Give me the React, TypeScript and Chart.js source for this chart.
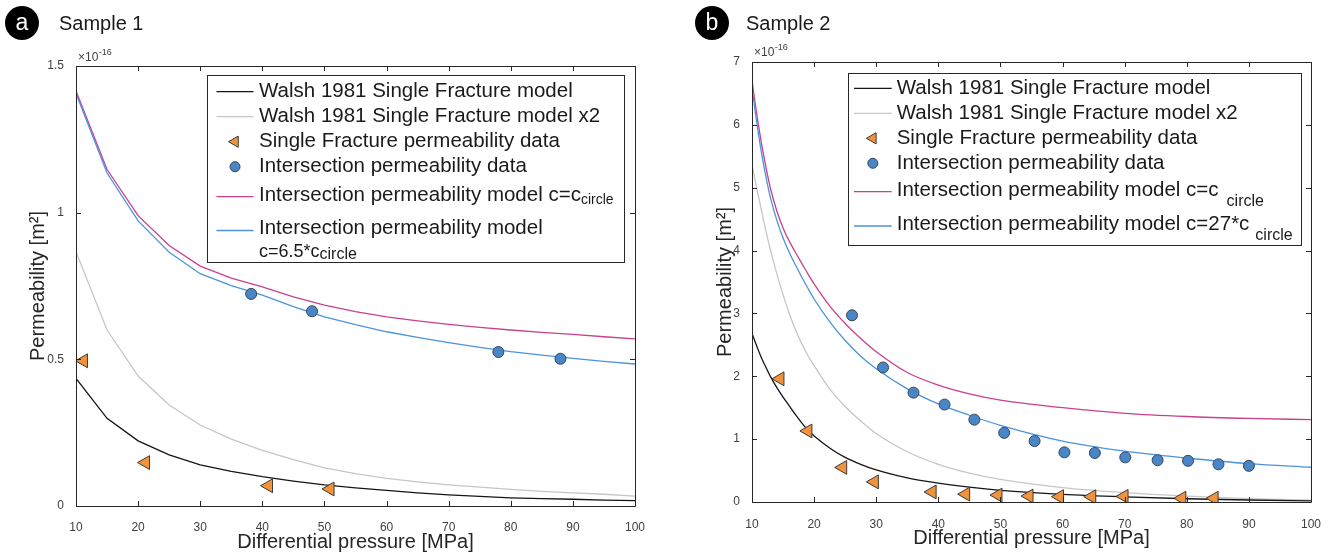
import React, { useEffect, useRef } from "react";
import { Chart, registerables } from "chart.js";

Chart.register(...registerables);

const FONT = '"Liberation Sans", Arial, Helvetica, sans-serif';

// ---------------- Panel a : Sample 1 ----------------
const aModelX = [10, 15, 20, 25, 30, 35, 40, 45, 50, 55, 60, 65, 70, 75, 80, 85, 90, 95, 100];
const aWalsh = [0.435, 0.299, 0.222, 0.174, 0.14, 0.118, 0.1, 0.085, 0.072, 0.062, 0.053, 0.045, 0.038, 0.033, 0.028, 0.025, 0.023, 0.02, 0.018];
const aWalshX2 = [0.867, 0.6, 0.443, 0.344, 0.276, 0.228, 0.19, 0.158, 0.13, 0.11, 0.094, 0.082, 0.072, 0.064, 0.057, 0.05, 0.045, 0.04, 0.034];
const aModelCircle = [1.415, 1.147, 0.99, 0.888, 0.818, 0.777, 0.747, 0.713, 0.685, 0.663, 0.645, 0.631, 0.619, 0.609, 0.6, 0.592, 0.585, 0.577, 0.57];
const aModel65 = [1.406, 1.135, 0.972, 0.865, 0.792, 0.751, 0.719, 0.68, 0.645, 0.618, 0.594, 0.575, 0.557, 0.541, 0.526, 0.514, 0.503, 0.493, 0.484];
const aSingleX = [11.2, 21.2, 41.0, 50.9];
const aSingleY = [0.495, 0.148, 0.069, 0.058];
const aInterX = [38.2, 48.0, 78.0, 88.0];
const aInterY = [0.723, 0.664, 0.525, 0.502];
const aYTicks = [0, 0.5, 1, 1.5];

// ---------------- Panel b : Sample 2 ----------------
const bModelX = [10, 10.5, 11, 11.5, 12, 12.5, 13, 14, 15, 16, 17, 18, 19, 20, 22.5, 25, 27.5, 30, 35, 40, 45, 50, 60, 70, 80, 90, 100];
const bWalsh = [2.68, 2.55, 2.42, 2.3, 2.19, 2.09, 1.99, 1.82, 1.67, 1.53, 1.39, 1.26, 1.14, 1.05, 0.86, 0.71, 0.6, 0.51, 0.385, 0.3, 0.235, 0.185, 0.12, 0.08, 0.052, 0.032, 0.018];
const bWalshX2 = [5.36, 5.12, 4.88, 4.65, 4.42, 4.2, 4.0, 3.63, 3.3, 3.0, 2.74, 2.52, 2.33, 2.17, 1.8, 1.52, 1.29, 1.09, 0.8, 0.6, 0.46, 0.36, 0.23, 0.15, 0.095, 0.055, 0.03];
const bModelCircle = [6.71, 6.35, 6.02, 5.72, 5.45, 5.2, 4.98, 4.63, 4.36, 4.15, 3.97, 3.8, 3.63, 3.47, 3.12, 2.84, 2.6, 2.39, 2.06, 1.86, 1.72, 1.62, 1.5, 1.41, 1.36, 1.33, 1.31];
const bModel27 = [6.61, 6.22, 5.88, 5.57, 5.3, 5.05, 4.83, 4.48, 4.2, 3.97, 3.77, 3.58, 3.4, 3.23, 2.87, 2.57, 2.32, 2.12, 1.8, 1.56, 1.38, 1.22, 0.97, 0.81, 0.7, 0.61, 0.553];
const bSingleX = [14.5, 19.0, 24.6, 29.7, 39.0, 44.4, 49.6, 54.6, 59.5, 64.7, 69.9, 79.2, 84.4];
const bSingleY = [1.96, 1.13, 0.55, 0.32, 0.16, 0.125, 0.11, 0.095, 0.085, 0.085, 0.09, 0.06, 0.06];
const bInterX = [26.1, 31.1, 36.0, 41.0, 45.8, 50.6, 55.5, 60.3, 65.2, 70.1, 75.3, 80.2, 85.1, 90.0];
const bInterY = [2.97, 2.14, 1.74, 1.55, 1.31, 1.1, 0.97, 0.79, 0.78, 0.71, 0.665, 0.655, 0.6, 0.575];
const bYTicks = [0, 1, 2, 3, 4, 5, 6, 7];

const xTicks = [10, 20, 30, 40, 50, 60, 70, 80, 90, 100];

const legendTexts = {
  walsh: "Walsh 1981 Single Fracture model",
  walsh2: "Walsh 1981 Single Fracture model x2",
  single: "Single Fracture permeability data",
  inter: "Intersection permeability data",
};

const COL = {
  black: "#151515",
  gray: "#c6c6c6",
  pink: "#c8408e",
  blue: "#4b93dc",
  orange: "#f2923a",
  orangeEdge: "#3a3a3a",
  dot: "#4a86c6",
  dotEdge: "#33475c",
  axis: "#262626",
  tick: "#404040",
};

const pts = (xs: number[], ys: number[]) => xs.map((x, i) => ({ x, y: ys[i] }));

function lineDs(label: string, xs: number[], ys: number[], color: string, smooth: boolean, order: number) {
  return {
    type: "line",
    label,
    data: pts(xs, ys),
    borderColor: color,
    backgroundColor: color,
    borderWidth: 1.3,
    pointRadius: 0,
    fill: false,
    tension: 0,
    cubicInterpolationMode: smooth ? "monotone" : "default",
    order,
  };
}

function triDs(label: string, xs: number[], ys: number[]) {
  return {
    type: "scatter",
    label,
    data: pts(xs, ys),
    pointStyle: "triangle",
    pointRotation: -90,
    pointRadius: 8,
    pointBackgroundColor: COL.orange,
    pointBorderColor: COL.orangeEdge,
    pointBorderWidth: 1,
    showLine: false,
    order: 1,
  };
}

function dotDs(label: string, xs: number[], ys: number[]) {
  return {
    type: "scatter",
    label,
    data: pts(xs, ys),
    pointStyle: "circle",
    pointRadius: 5.5,
    pointBackgroundColor: COL.dot,
    pointBorderColor: COL.dotEdge,
    pointBorderWidth: 1,
    showLine: false,
    order: 0,
  };
}

// frame + mirrored inward ticks + exponent label
const framePlugin = {
  id: "matlabFrame",
  afterDraw(chart: any) {
    const { ctx, chartArea, scales } = chart;
    const { left, top, right, bottom } = chartArea;
    const xs = scales.x;
    const ys = scales.y;
    ctx.save();
    ctx.strokeStyle = COL.axis;
    ctx.lineWidth = 1;
    ctx.beginPath();
    ctx.rect(Math.round(left) + 0.5, Math.round(top) + 0.5, Math.round(right - left), Math.round(bottom - top));
    ctx.stroke();
    const L = 5;
    ctx.beginPath();
    xs.ticks.forEach((t: any) => {
      const px = Math.round(xs.getPixelForValue(t.value)) + 0.5;
      ctx.moveTo(px, bottom);
      ctx.lineTo(px, bottom - L);
      ctx.moveTo(px, top);
      ctx.lineTo(px, top + L);
    });
    ys.ticks.forEach((t: any) => {
      const py = Math.round(ys.getPixelForValue(t.value)) + 0.5;
      ctx.moveTo(left, py);
      ctx.lineTo(left + L, py);
      ctx.moveTo(right, py);
      ctx.lineTo(right - L, py);
    });
    ctx.stroke();
    // x10^-16
    const ex = chart.options.plugins.matlabFrame || {};
    ctx.fillStyle = COL.tick;
    ctx.textBaseline = "middle";
    ctx.textAlign = "left";
    ctx.font = `12px ${FONT}`;
    const base = "\u00d710";
    const bx = left + (ex.dx || 2);
    const by = top - (ex.dy || 8);
    ctx.fillText(base, bx, by);
    const w = ctx.measureText(base).width;
    ctx.font = `9px ${FONT}`;
    ctx.fillText("-16", bx + w + 0.5, by - 5);
    ctx.restore();
  },
};

const legendPlugin = {
  id: "boxLegend",
  afterDraw(chart: any) {
    const o = chart.options.plugins.boxLegend;
    if (!o) return;
    const { ctx } = chart;
    ctx.save();
    const [x0, y0, x1, y1] = o.box;
    ctx.fillStyle = "#ffffff";
    ctx.fillRect(x0, y0, x1 - x0, y1 - y0);
    ctx.strokeStyle = COL.axis;
    ctx.lineWidth = 1;
    ctx.strokeRect(Math.round(x0) + 0.5, Math.round(y0) + 0.5, Math.round(x1 - x0), Math.round(y1 - y0));
    ctx.textBaseline = "middle";
    ctx.textAlign = "left";
    o.items.forEach((it: any) => {
      if (it.kind === "line") {
        ctx.strokeStyle = it.color;
        ctx.lineWidth = 1.3;
        ctx.beginPath();
        ctx.moveTo(o.lineX0, it.ly);
        ctx.lineTo(o.lineX1, it.ly);
        ctx.stroke();
      } else if (it.kind === "tri") {
        const cx = (o.lineX0 + o.lineX1) / 2;
        const r = 6.5;
        ctx.fillStyle = COL.orange;
        ctx.strokeStyle = COL.orangeEdge;
        ctx.lineWidth = 1;
        ctx.beginPath();
        ctx.moveTo(cx - r, it.ly);
        ctx.lineTo(cx + r / 2, it.ly - r * 0.866);
        ctx.lineTo(cx + r / 2, it.ly + r * 0.866);
        ctx.closePath();
        ctx.fill();
        ctx.stroke();
      } else if (it.kind === "dot") {
        const cx = (o.lineX0 + o.lineX1) / 2;
        ctx.fillStyle = COL.dot;
        ctx.strokeStyle = COL.dotEdge;
        ctx.lineWidth = 1;
        ctx.beginPath();
        ctx.arc(cx, it.ly, 5, 0, Math.PI * 2);
        ctx.fill();
        ctx.stroke();
      }
      ctx.fillStyle = "#1a1a1a";
      it.lines.forEach((ln: any) => {
        let x = o.textX;
        ln.parts.forEach((p: any) => {
          ctx.font = `${p.size}px ${FONT}`;
          x += p.gap || 0;
          ctx.fillText(p.t, x, ln.y + (p.dy || 0));
          x += ctx.measureText(p.t).width;
        });
      });
    });
    ctx.restore();
  },
};

function makeConfig(p: {
  datasets: any[];
  yMax: number;
  yTicks: number[];
  padRight: number;
  padTop: number;
  yWidth: number;
  xHeight: number;
  yTitlePad: number;
  xTitlePad: number;
  xTickPad: number;
  legend: any;
  expo: any;
}) {
  return {
    data: { datasets: p.datasets },
    options: {
      responsive: false,
      animation: false,
      devicePixelRatio: 1,
      layout: { padding: { left: 0, top: p.padTop, right: p.padRight, bottom: 0 } },
      plugins: {
        legend: { display: false },
        tooltip: { enabled: false },
        boxLegend: p.legend,
        matlabFrame: p.expo,
      },
      scales: {
        x: {
          type: "linear",
          min: 10,
          max: 100,
          afterBuildTicks: (s: any) => {
            s.ticks = xTicks.map((v) => ({ value: v }));
          },
          afterFit: (s: any) => {
            s.height = p.xHeight;
          },
          grid: { display: false },
          border: { display: false },
          ticks: {
            color: COL.tick,
            font: { family: FONT, size: 12 },
            padding: p.xTickPad,
            maxRotation: 0,
            callback: (v: any) => String(v),
          },
          title: {
            display: true,
            text: "Differential pressure [MPa]",
            color: COL.axis,
            font: { family: FONT, size: 20 },
            padding: { top: 0, bottom: p.xTitlePad },
          },
        },
        y: {
          type: "linear",
          min: 0,
          max: p.yMax,
          afterBuildTicks: (s: any) => {
            s.ticks = p.yTicks.map((v) => ({ value: v }));
          },
          afterFit: (s: any) => {
            s.width = p.yWidth;
          },
          grid: { display: false },
          border: { display: false },
          ticks: {
            color: COL.tick,
            font: { family: FONT, size: 12 },
            padding: 4,
            callback: (v: any) => String(v),
          },
          title: {
            display: true,
            text: "Permeability [m\u00b2]",
            color: COL.axis,
            font: { family: FONT, size: 20 },
            padding: { top: p.yTitlePad, bottom: 0 },
          },
        },
      },
    },
    plugins: [framePlugin, legendPlugin],
  };
}

const OFF_B = 665;

const configA = makeConfig({
  datasets: [
    dotDs(legendTexts.inter, aInterX, aInterY),
    triDs(legendTexts.single, aSingleX, aSingleY),
    lineDs("Intersection permeability model c=6.5*c_circle", aModelX, aModel65, COL.blue, false, 2),
    lineDs("Intersection permeability model c=c_circle", aModelX, aModelCircle, COL.pink, false, 3),
    lineDs(legendTexts.walsh2, aModelX, aWalshX2, COL.gray, false, 5),
    lineDs(legendTexts.walsh, aModelX, aWalsh, COL.black, false, 4),
  ],
  yMax: 1.5,
  yTicks: aYTicks,
  padRight: 30,
  padTop: 66,
  yWidth: 76,
  xHeight: 51,
  yTitlePad: 26,
  xTitlePad: 3,
  xTickPad: 6,
  expo: { dx: 2, dy: 8 },
  legend: {
    box: [207, 75, 624, 262],
    lineX0: 216.5,
    lineX1: 253.5,
    textX: 259,
    items: [
      { kind: "line", color: COL.black, ly: 91.7, lines: [{ y: 91.7, parts: [{ t: legendTexts.walsh, size: 20.5 }] }] },
      { kind: "line", color: COL.gray, ly: 116.7, lines: [{ y: 116.7, parts: [{ t: legendTexts.walsh2, size: 20.5 }] }] },
      { kind: "tri", ly: 141.7, lines: [{ y: 141.7, parts: [{ t: legendTexts.single, size: 20.5 }] }] },
      { kind: "dot", ly: 166.7, lines: [{ y: 166.7, parts: [{ t: legendTexts.inter, size: 20.5 }] }] },
      {
        kind: "line",
        color: COL.pink,
        ly: 196.7,
        lines: [{ y: 195.5, parts: [{ t: "Intersection permeability model c=c", size: 20.5 }, { t: "circle", size: 14, dy: 5 }] }],
      },
      {
        kind: "line",
        color: COL.blue,
        ly: 230.5,
        lines: [
          { y: 228.5, parts: [{ t: "Intersection permeability model", size: 20.5 }] },
          { y: 252.5, parts: [{ t: "c=6.5*c", size: 18 }, { t: "circle", size: 16, dy: 2 }] },
        ],
      },
    ],
  },
});

const configB = makeConfig({
  datasets: [
    dotDs(legendTexts.inter, bInterX, bInterY),
    triDs(legendTexts.single, bSingleX, bSingleY),
    lineDs("Intersection permeability model c=27*c_circle", bModelX, bModel27, COL.blue, true, 2),
    lineDs("Intersection permeability model c=c_circle", bModelX, bModelCircle, COL.pink, true, 3),
    lineDs(legendTexts.walsh2, bModelX, bWalshX2, COL.gray, true, 5),
    lineDs(legendTexts.walsh, bModelX, bWalsh, COL.black, true, 4),
  ],
  yMax: 7,
  yTicks: bYTicks,
  padRight: 20,
  padTop: 62,
  yWidth: 87,
  xHeight: 55,
  yTitlePad: 48,
  xTitlePad: 7,
  xTickPad: 7,
  expo: { dx: 2, dy: 9 },
  legend: {
    box: [848 - OFF_B, 73, 1300.5 - OFF_B, 245],
    lineX0: 854 - OFF_B,
    lineX1: 891.7 - OFF_B,
    textX: 896.7 - OFF_B,
    items: [
      { kind: "line", color: COL.black, ly: 88.3, lines: [{ y: 88.3, parts: [{ t: legendTexts.walsh, size: 20.5 }] }] },
      { kind: "line", color: COL.gray, ly: 113.3, lines: [{ y: 113.3, parts: [{ t: legendTexts.walsh2, size: 20.5 }] }] },
      { kind: "tri", ly: 138.3, lines: [{ y: 138.3, parts: [{ t: legendTexts.single, size: 20.5 }] }] },
      { kind: "dot", ly: 163.3, lines: [{ y: 163.3, parts: [{ t: legendTexts.inter, size: 20.5 }] }] },
      {
        kind: "line",
        color: COL.pink,
        ly: 191.7,
        lines: [{ y: 190, parts: [{ t: "Intersection permeability model c=c", size: 20.5 }, { t: "circle", size: 16, dy: 11.7, gap: 8 }] }],
      },
      {
        kind: "line",
        color: COL.blue,
        ly: 226,
        lines: [{ y: 224, parts: [{ t: "Intersection permeability model c=27*c", size: 20.5 }, { t: "circle", size: 16, dy: 11.7, gap: 6 }] }],
      },
    ],
  },
});

function ChartCanvas({ config, left, width }: { config: any; left: number; width: number }) {
  const ref = useRef<HTMLCanvasElement | null>(null);
  useEffect(() => {
    if (!ref.current) return;
    const chart = new Chart(ref.current, config as any);
    return () => chart.destroy();
  }, [config]);
  return (
    <canvas
      ref={ref}
      width={width}
      height={557}
      style={{ position: "absolute", left, top: 0, width, height: 557 }}
    />
  );
}

function PanelLabel({ letter, title, cx, tx }: { letter: string; title: string; cx: number; tx: number }) {
  return (
    <>
      <div
        style={{
          position: "absolute",
          left: cx - 17,
          top: 23 - 17,
          width: 34,
          height: 34,
          borderRadius: "50%",
          background: "#000",
          color: "#fff",
          fontFamily: FONT,
          fontSize: 23,
          lineHeight: "33px",
          textAlign: "center",
        }}
      >
        {letter}
      </div>
      <div
        style={{
          position: "absolute",
          left: tx,
          top: 10,
          fontFamily: FONT,
          fontSize: 20,
          lineHeight: "26px",
          color: "#1a1a1a",
          whiteSpace: "nowrap",
        }}
      >
        {title}
      </div>
    </>
  );
}

export default function App() {
  return (
    <div style={{ position: "absolute", left: 0, top: 0, width: 1331, height: 557, background: "#fff", overflow: "hidden" }}>
      <ChartCanvas config={configA} left={0} width={665} />
      <ChartCanvas config={configB} left={OFF_B} width={666} />
      <PanelLabel letter="a" title="Sample 1" cx={22} tx={59} />
      <PanelLabel letter="b" title="Sample 2" cx={712} tx={746} />
    </div>
  );
}
